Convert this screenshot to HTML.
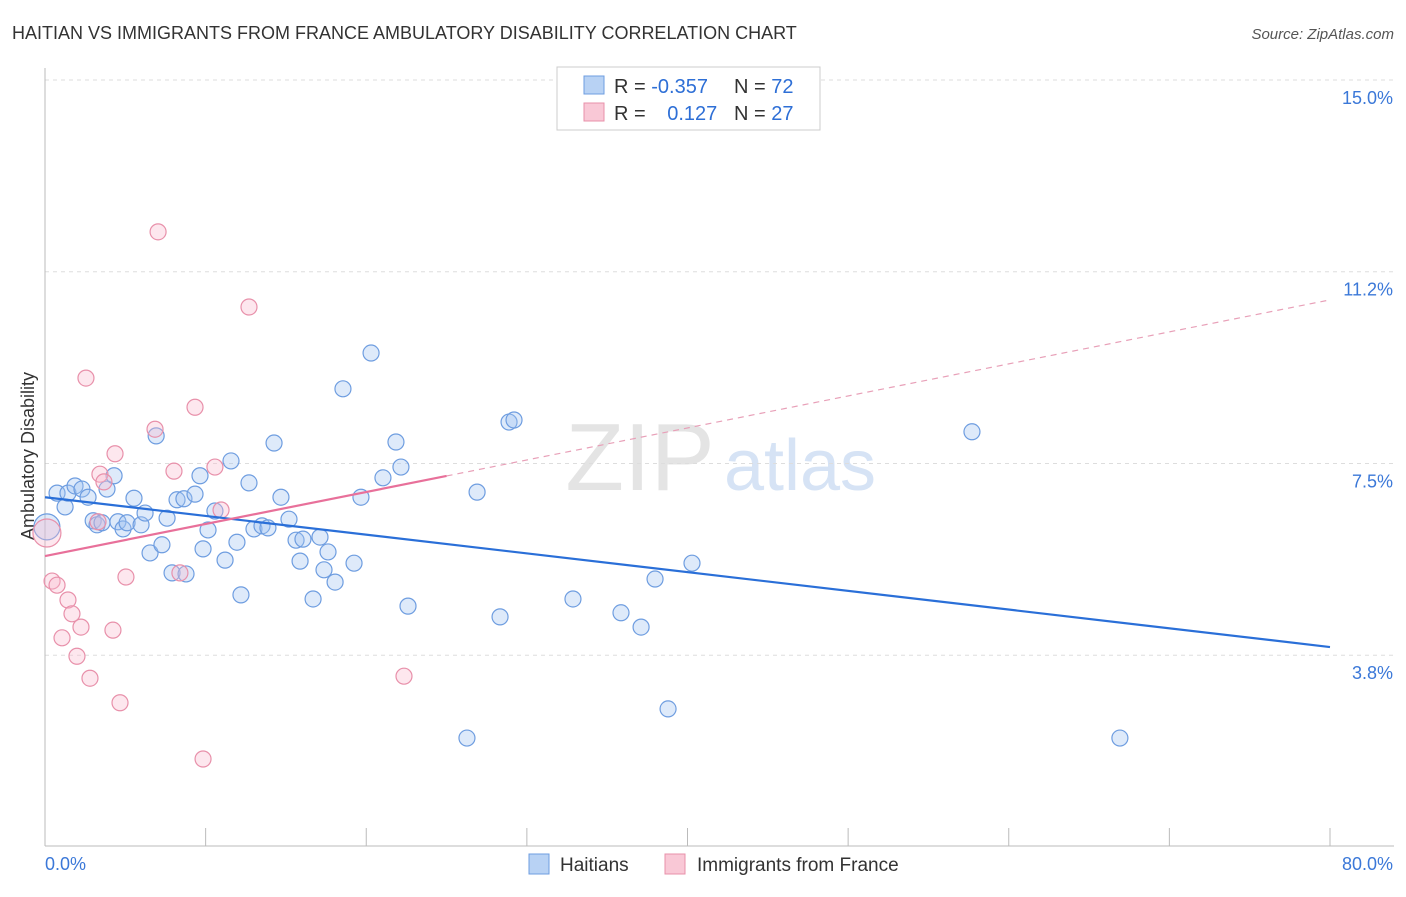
<!DOCTYPE html>
<html><head><meta charset="utf-8"><style>
body{margin:0;background:#fff;font-family:"Liberation Sans",sans-serif;}
svg text{font-family:"Liberation Sans",sans-serif;}
</style></head><body>
<svg width="1406" height="892" xmlns="http://www.w3.org/2000/svg" id="chart">
<text x="12" y="39" font-size="18" fill="#333">HAITIAN VS IMMIGRANTS FROM FRANCE AMBULATORY DISABILITY CORRELATION CHART</text>
<text x="1394" y="39" font-size="15" fill="#555" font-style="italic" text-anchor="end">Source: ZipAtlas.com</text>
<text x="640" y="490" font-size="96" fill="#e4e4e4" font-family="Liberation Serif" text-anchor="middle">ZIP</text>
<text x="800" y="490" font-size="72" fill="#d6e3f5" text-anchor="middle">atlas</text>
<text transform="translate(34,456) rotate(-90)" font-size="18" fill="#333" text-anchor="middle">Ambulatory Disability</text>
<g id="grid"></g><g id="axes"></g><g id="marks"></g><g id="lines"></g>
<g>
<rect x="557" y="67" width="263" height="63" fill="#fff" stroke="#ccc"/>
<rect x="584" y="76" width="20" height="18" fill="#b8d2f4" stroke="#6e9de0"/>
<rect x="584" y="103" width="20" height="18" fill="#f9c8d6" stroke="#e890aa"/>
<text x="614" y="93" font-size="20" fill="#333">R = <tspan fill="#2e6fd6">-0.357</tspan></text>
<text x="734" y="93" font-size="20" fill="#333">N = <tspan fill="#2e6fd6">72</tspan></text>
<text x="614" y="120" font-size="20" fill="#333">R = <tspan fill="#2e6fd6" dx="16">0.127</tspan></text>
<text x="734" y="120" font-size="20" fill="#333">N = <tspan fill="#2e6fd6">27</tspan></text>
</g>
<g>
<rect x="529" y="854" width="20" height="20" fill="#b8d2f4" stroke="#6e9de0"/>
<text x="560" y="871" font-size="19" fill="#333">Haitians</text>
<rect x="665" y="854" width="20" height="20" fill="#f9c8d6" stroke="#e890aa"/>
<text x="697" y="871" font-size="19" fill="#333">Immigrants from France</text>
</g>
</svg>
<script>
const blueData=[[0.12,6.26],[0.75,6.92],[1.25,6.65],[1.43,6.92],[1.87,7.06],[2.30,7.00],[2.68,6.84],[3.00,6.38],[3.24,6.30],[3.55,6.34],[3.86,7.00],[4.30,7.26],[4.54,6.36],[4.86,6.22],[5.11,6.34],[5.54,6.82],[5.98,6.30],[6.23,6.53],[6.54,5.75],[6.92,8.04],[7.28,5.91],[7.60,6.43],[7.91,5.36],[8.22,6.79],[8.65,6.81],[8.78,5.34],[9.34,6.90],[9.65,7.26],[9.84,5.83],[10.15,6.20],[10.58,6.57],[11.21,5.61],[11.58,7.55],[11.95,5.96],[12.20,4.93],[12.70,7.12],[13.01,6.22],[13.51,6.28],[13.88,6.24],[14.26,7.90],[14.69,6.84],[15.19,6.41],[15.63,6.00],[15.88,5.59],[16.06,6.02],[16.69,4.85],[17.12,6.06],[17.37,5.42],[17.62,5.77],[18.06,5.18],[18.55,8.96],[19.24,5.55],[19.67,6.84],[20.30,9.66],[21.04,7.22],[21.85,7.92],[22.16,7.43],[22.60,4.71],[26.27,2.13],[26.90,6.94],[28.33,4.50],[28.89,8.31],[29.20,8.35],[32.87,4.85],[35.86,4.58],[37.11,4.30],[37.98,5.24],[38.79,2.70],[40.28,5.55],[57.71,8.12],[66.92,2.13]];
const pinkData=[[0.12,6.14],[0.44,5.20],[0.75,5.12],[1.06,4.09],[1.43,4.83],[1.68,4.56],[1.99,3.73],[2.24,4.30],[2.55,9.17],[2.80,3.30],[3.42,7.29],[3.67,7.14],[3.30,6.36],[4.23,4.24],[4.36,7.69],[4.67,2.82],[5.04,5.28],[6.85,8.17],[7.04,12.03],[8.03,7.35],[8.40,5.36],[9.34,8.60],[9.84,1.72],[10.58,7.43],[10.96,6.59],[12.70,10.56],[22.35,3.34]];
const blueTrend=[6.84,3.91];
const pinkTrend=[5.69,10.70];
const pinkSolidEnd=25;
const yTicks=[15.0,11.25,7.5,3.75];
const yTickLabels=["15.0%","11.2%","7.5%","3.8%"];
const xTickVals=[0,10,20,30,40,50,60,70,80];
const NS="http://www.w3.org/2000/svg";
const X=v=>45+v/80*1285;
const Y=v=>80+(15-v)*51.13;
function mk(t,a,p){const e=document.createElementNS(NS,t);for(const k in a)e.setAttribute(k,a[k]);document.getElementById(p).appendChild(e);return e;}
yTicks.forEach((v,i)=>{
 const l=mk('line',{x1:45,x2:1394,y1:Y(v),y2:Y(v),stroke:'#ddd','stroke-dasharray':'4,4'},'grid');
 
 
 const t=mk('text',{x:1393,y:Y(v)+24,'font-size':18,fill:'#3b78d8','text-anchor':'end'},'axes');
 t.textContent=yTickLabels[i];
 
 
});
const ax=mk('line',{x1:45,x2:45,y1:68,y2:846,stroke:'#bbb'},'axes');


const bx=mk('line',{x1:45,x2:1394,y1:846,y2:846,stroke:'#bbb'},'axes');


xTickVals.forEach(v=>{
 const l=mk('line',{x1:X(v),x2:X(v),y1:828,y2:846,stroke:'#bbb'},'axes');
 
 
});
const xl0=mk('text',{x:45,y:870,'font-size':18,fill:'#3b78d8'},'axes');xl0.textContent="0.0%";


const xl1=mk('text',{x:1393,y:870,'font-size':18,fill:'#3b78d8','text-anchor':'end'},'axes');xl1.textContent="80.0%";


blueData.forEach((d,i)=>{
 const c=mk('circle',{cx:X(d[0]),cy:Y(d[1]),r:i==0?13:8,fill:'rgba(160,195,240,0.35)',stroke:'#6e9de0','stroke-width':1.2},'marks');
 
 
});
pinkData.forEach((d,i)=>{
 const c=mk('circle',{cx:X(d[0]),cy:Y(d[1]),r:i==0?14:8,fill:'rgba(248,185,205,0.35)',stroke:'#e890aa','stroke-width':1.2},'marks');
 
 
});
const py=x=>pinkTrend[0]+(pinkTrend[1]-pinkTrend[0])*x/80;
const bl=mk('line',{x1:X(0),y1:Y(blueTrend[0]),x2:X(80),y2:Y(blueTrend[1]),stroke:'#2a6fd8','stroke-width':2.2},'lines');


const pl=mk('line',{x1:X(0),y1:Y(py(0)),x2:X(pinkSolidEnd),y2:Y(py(pinkSolidEnd)),stroke:'#e8709a','stroke-width':2.2},'lines');


const pd=mk('line',{x1:X(pinkSolidEnd),y1:Y(py(pinkSolidEnd)),x2:X(80),y2:Y(py(80)),stroke:'#e8a0b8','stroke-width':1.2,'stroke-dasharray':'6,5'},'lines');


</script>
</body></html>
